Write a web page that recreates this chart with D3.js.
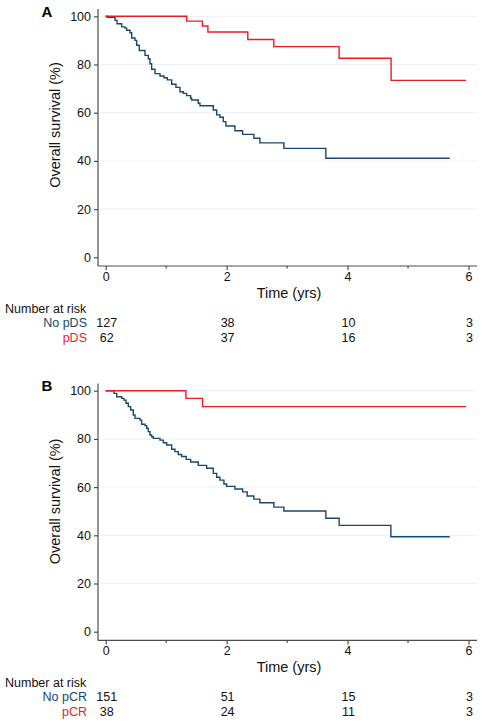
<!DOCTYPE html>
<html><head><meta charset="utf-8">
<script src="https://cdn.jsdelivr.net/npm/d3@7"></script>
<style>
html,body{margin:0;padding:0;background:#fff;}
svg{display:block;font-family:"Liberation Sans",Arial,Helvetica,sans-serif;}
</style></head>
<body>
<svg id="chart" width="483" height="724"></svg>
<script>
// ---- data ----
const xTicks = [0, 2, 4, 6];
const xMinorTicks = [1, 3, 5];
const yTicks = [0, 20, 40, 60, 80, 100];
const riskTimes = [0, 2, 4, 6];

const panelLabels = ["A", "B"];
const groupLabelsA = ["No pDS", "pDS"];
const groupLabelsB = ["No pCR", "pCR"];

const riskA_no = [127, 38, 10, 3];
const riskA_yes = [62, 37, 16, 3];
const riskB_no = [151, 51, 15, 3];
const riskB_yes = [38, 24, 11, 3];

// [time (yrs), survival (%)]
const survA_no = [[0,100],[0.02,99.6],[0.154,98.3],[0.187,96.9],[0.264,95.6],[0.319,95.1],[0.347,94.2],[0.402,93.2],[0.43,91.0],[0.484,90.0],[0.512,88.0],[0.555,85.8],[0.65,83.8],[0.704,82.4],[0.732,80.3],[0.760,78.0],[0.815,76.2],[0.898,75.2],[0.964,74.5],[1.018,73.6],[1.091,71.8],[1.162,70.5],[1.228,68.7],[1.283,68.0],[1.339,67.1],[1.405,66.0],[1.421,65.3],[1.531,63.9],[1.559,62.9],[1.779,61.1],[1.835,59.1],[1.889,58.1],[1.944,56.3],[1.988,54.5],[2.137,52.5],[2.264,51.0],[2.451,49.4],[2.55,47.5],[2.947,45.2],[3.641,41.1],[5.69,41.1]];
const survA_yes = [[0,100],[1.34,98.0],[1.60,96.0],[1.69,93.5],[2.35,90.4],[2.78,87.4],[3.86,82.6],[4.72,73.4],[5.96,73.4]];
const survB_no = [[0,100],[0.137,98.9],[0.182,97.5],[0.264,96.8],[0.302,96.1],[0.336,94.8],[0.374,93.4],[0.413,92.0],[0.456,89.9],[0.484,88.5],[0.567,87.8],[0.595,86.1],[0.650,85.5],[0.678,84.4],[0.704,83.0],[0.732,81.6],[0.760,80.9],[0.787,80.2],[0.898,79.5],[0.952,78.4],[1.008,77.5],[1.091,75.7],[1.145,74.7],[1.2,73.5],[1.256,72.7],[1.332,71.5],[1.405,70.4],[1.531,69.0],[1.669,67.8],[1.779,65.7],[1.835,64.1],[1.889,62.9],[1.955,61.3],[2.0,60.3],[2.137,59.2],[2.264,58.0],[2.34,56.3],[2.451,55.0],[2.55,53.5],[2.782,51.7],[2.947,50.1],[3.641,47.1],[3.861,44.1],[4.716,39.4],[5.69,39.4]];
const survB_yes = [[0,100],[1.327,96.8],[1.603,93.4],[5.96,93.4]];

// ---- drawing ----
const BLUE = "#1a476f", RED = "#ec1c24", AXIS = "#4d4d4d", GRID = "#eaf0f4";
const svg = d3.select("#chart");

function drawPanel(cfg) {
  const g = svg.append("g").attr("transform", `translate(0,${cfg.offset})`);
  const x = d3.scaleLinear().domain([0, 6]).range([105.7, 468.5]);
  const y = d3.scaleLinear().domain([0, 100]).range([257.3, 16.3]);
  const axisY = 266, axisX = 98, axisTop = 9, axisRight = 477;

  // gridlines
  g.append("g").selectAll("line").data(yTicks.filter(d => d > 0)).join("line")
    .attr("x1", axisX + 2).attr("x2", axisRight).attr("y1", d => y(d)).attr("y2", d => y(d))
    .attr("stroke", GRID).attr("stroke-width", 1);

  // y axis
  const yAx = g.append("g").attr("transform", `translate(${axisX},0)`)
    .call(d3.axisLeft(y).tickValues(yTicks).tickFormat(d3.format("d")).tickSize(4).tickPadding(3).tickSizeOuter(0));
  yAx.select(".domain").attr("d", `M0,${axisTop}V${axisY}`).attr("stroke", AXIS).attr("stroke-width", 1.2);
  yAx.selectAll(".tick line").attr("stroke", AXIS).attr("stroke-width", 1.2);
  yAx.selectAll(".tick text").attr("font-size", 12.5).attr("fill", "#111").attr("font-family", "Liberation Sans, Arial, sans-serif");

  // x axis
  const xAx = g.append("g").attr("transform", `translate(0,${axisY})`)
    .call(d3.axisBottom(x).tickValues(xTicks).tickFormat(d3.format("d")).tickSize(4).tickPadding(2).tickSizeOuter(0));
  xAx.select(".domain").attr("d", `M${axisX},0H${axisRight}`).attr("stroke", AXIS).attr("stroke-width", 1.2);
  xAx.selectAll(".tick line").attr("stroke", AXIS).attr("stroke-width", 1.2);
  xAx.selectAll(".tick text").attr("font-size", 12.5).attr("fill", "#111").attr("font-family", "Liberation Sans, Arial, sans-serif");
  xAx.append("g").selectAll("line").data(xMinorTicks).join("line")
    .attr("x1", d => x(d)).attr("x2", d => x(d)).attr("y1", 0).attr("y2", 2.5)
    .attr("stroke", AXIS).attr("stroke-width", 1.2);

  // curves
  const line = d3.line().x(d => x(d[0])).y(d => y(d[1])).curve(d3.curveStepAfter);
  [[cfg.no, BLUE], [cfg.yes, RED]].forEach(([data, col]) => {
    g.append("path").datum(data).attr("d", line).attr("fill", "none")
      .attr("stroke", col).attr("stroke-width", 1.4);
  });

  // labels
  g.append("text").attr("x", 41.5).attr("y", 17).attr("font-size", 15).attr("font-weight", "bold")
    .attr("fill", "#000").text(cfg.letter);
  g.append("text").attr("transform", `translate(60,${cfg.ylabY}) rotate(-90)`)
    .attr("text-anchor", "middle").attr("font-size", 14.5).attr("fill", "#111").text("Overall survival (%)");
  g.append("text").attr("x", 289).attr("y", axisY + 32).attr("text-anchor", "middle")
    .attr("font-size", 14.5).attr("fill", "#111").text("Time (yrs)");

  // risk table
  g.append("text").attr("x", 5).attr("y", axisY + 46.5).attr("font-size", 12.5).attr("fill", "#111").text("Number at risk");
  const rows = [[cfg.groups[0], cfg.riskNo, BLUE, axisY + 61], [cfg.groups[1], cfg.riskYes, RED, axisY + 75.5]];
  rows.forEach(([lab, vals, col, yy]) => {
    g.append("text").attr("x", 87).attr("y", yy).attr("text-anchor", "end")
      .attr("font-size", 12.5).attr("fill", col).text(lab);
    g.append("g").selectAll("text").data(riskTimes).join("text")
      .attr("x", (d, i) => x(d) + 1).attr("y", yy).attr("text-anchor", "middle")
      .attr("font-size", 12.5).attr("fill", "#111").text((d, i) => vals[i]);
  });
}

drawPanel({offset: 0, letter: panelLabels[0], no: survA_no, yes: survA_yes, groups: groupLabelsA, riskNo: riskA_no, riskYes: riskA_yes, ylabY: 125});
drawPanel({offset: 374.4, letter: panelLabels[1], no: survB_no, yes: survB_yes, groups: groupLabelsB, riskNo: riskB_no, riskYes: riskB_yes, ylabY: 127});
</script>
</body></html>
